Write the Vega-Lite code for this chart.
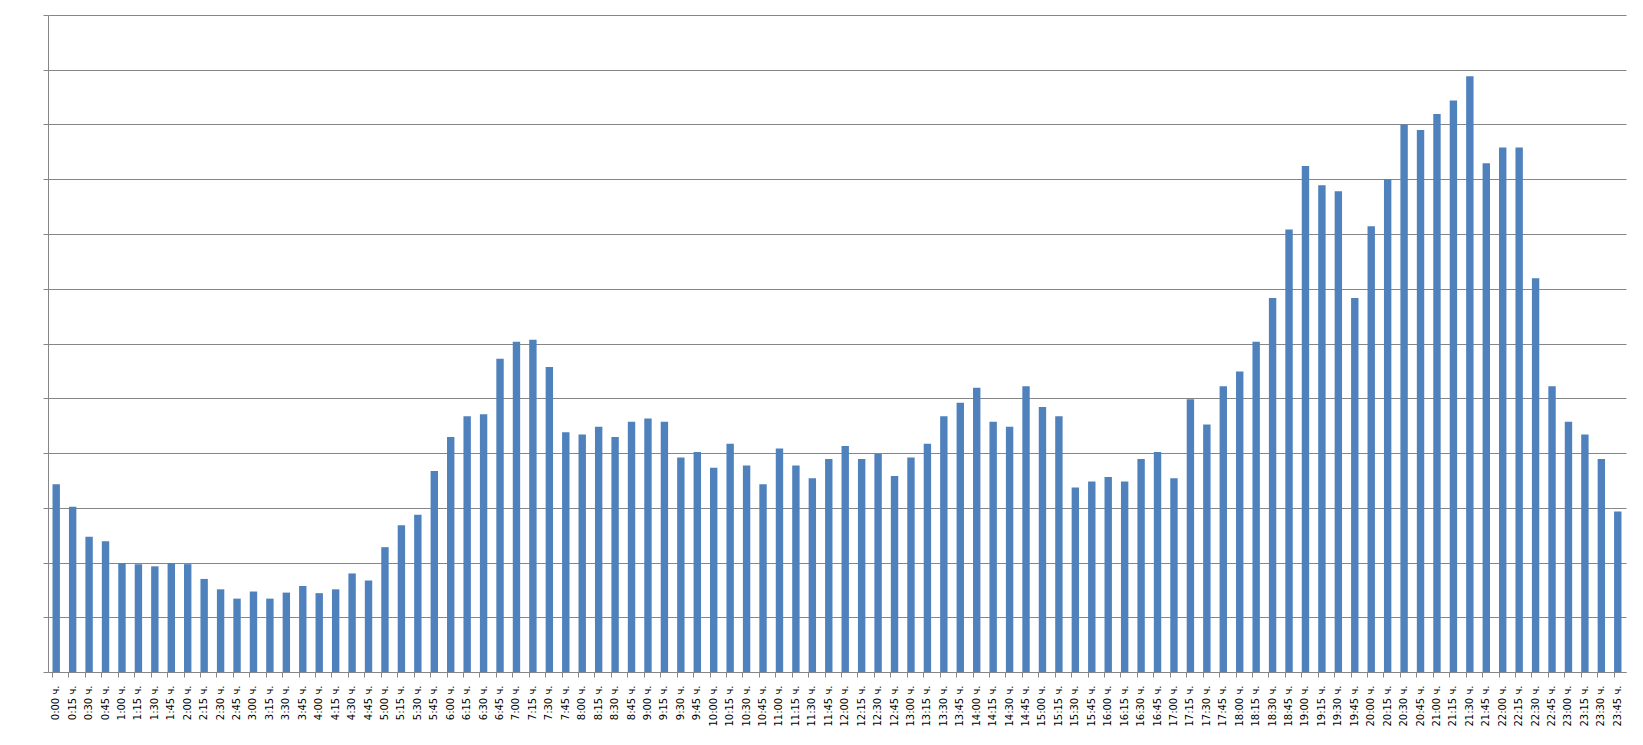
{
  "$schema": "https://vega.github.io/schema/vega-lite/v6.json",
  "autosize": "none",
  "width": 1578,
  "height": 657,
  "padding": {"left": 48, "top": 15, "right": 17, "bottom": 73},
  "background": "white",
  "config": {
    "view": {"stroke": null},
    "font": "DejaVu Sans"
  },
  "data": {"values": [
    {"time": "0:00 ч.", "value": 3.43},
    {"time": "0:15 ч.", "value": 3.02},
    {"time": "0:30 ч.", "value": 2.47},
    {"time": "0:45 ч.", "value": 2.39},
    {"time": "1:00 ч.", "value": 1.99},
    {"time": "1:15 ч.", "value": 1.97},
    {"time": "1:30 ч.", "value": 1.93},
    {"time": "1:45 ч.", "value": 1.99},
    {"time": "2:00 ч.", "value": 1.97},
    {"time": "2:15 ч.", "value": 1.70},
    {"time": "2:30 ч.", "value": 1.51},
    {"time": "2:45 ч.", "value": 1.34},
    {"time": "3:00 ч.", "value": 1.47},
    {"time": "3:15 ч.", "value": 1.34},
    {"time": "3:30 ч.", "value": 1.45},
    {"time": "3:45 ч.", "value": 1.57},
    {"time": "4:00 ч.", "value": 1.44},
    {"time": "4:15 ч.", "value": 1.51},
    {"time": "4:30 ч.", "value": 1.80},
    {"time": "4:45 ч.", "value": 1.67},
    {"time": "5:00 ч.", "value": 2.28},
    {"time": "5:15 ч.", "value": 2.68},
    {"time": "5:30 ч.", "value": 2.87},
    {"time": "5:45 ч.", "value": 3.67},
    {"time": "6:00 ч.", "value": 4.29},
    {"time": "6:15 ч.", "value": 4.67},
    {"time": "6:30 ч.", "value": 4.71},
    {"time": "6:45 ч.", "value": 5.72},
    {"time": "7:00 ч.", "value": 6.03},
    {"time": "7:15 ч.", "value": 6.07},
    {"time": "7:30 ч.", "value": 5.57},
    {"time": "7:45 ч.", "value": 4.38},
    {"time": "8:00 ч.", "value": 4.34},
    {"time": "8:15 ч.", "value": 4.48},
    {"time": "8:30 ч.", "value": 4.29},
    {"time": "8:45 ч.", "value": 4.57},
    {"time": "9:00 ч.", "value": 4.63},
    {"time": "9:15 ч.", "value": 4.57},
    {"time": "9:30 ч.", "value": 3.92},
    {"time": "9:45 ч.", "value": 4.02},
    {"time": "10:00 ч.", "value": 3.73},
    {"time": "10:15 ч.", "value": 4.17},
    {"time": "10:30 ч.", "value": 3.77},
    {"time": "10:45 ч.", "value": 3.43},
    {"time": "11:00 ч.", "value": 4.08},
    {"time": "11:15 ч.", "value": 3.77},
    {"time": "11:30 ч.", "value": 3.54},
    {"time": "11:45 ч.", "value": 3.89},
    {"time": "12:00 ч.", "value": 4.13},
    {"time": "12:15 ч.", "value": 3.89},
    {"time": "12:30 ч.", "value": 3.98},
    {"time": "12:45 ч.", "value": 3.58},
    {"time": "13:00 ч.", "value": 3.92},
    {"time": "13:15 ч.", "value": 4.17},
    {"time": "13:30 ч.", "value": 4.67},
    {"time": "13:45 ч.", "value": 4.92},
    {"time": "14:00 ч.", "value": 5.19},
    {"time": "14:15 ч.", "value": 4.57},
    {"time": "14:30 ч.", "value": 4.48},
    {"time": "14:45 ч.", "value": 5.22},
    {"time": "15:00 ч.", "value": 4.84},
    {"time": "15:15 ч.", "value": 4.67},
    {"time": "15:30 ч.", "value": 3.37},
    {"time": "15:45 ч.", "value": 3.48},
    {"time": "16:00 ч.", "value": 3.56},
    {"time": "16:15 ч.", "value": 3.48},
    {"time": "16:30 ч.", "value": 3.89},
    {"time": "16:45 ч.", "value": 4.02},
    {"time": "17:00 ч.", "value": 3.54},
    {"time": "17:15 ч.", "value": 4.98},
    {"time": "17:30 ч.", "value": 4.52},
    {"time": "17:45 ч.", "value": 5.22},
    {"time": "18:00 ч.", "value": 5.49},
    {"time": "18:15 ч.", "value": 6.03},
    {"time": "18:30 ч.", "value": 6.83},
    {"time": "18:45 ч.", "value": 8.08},
    {"time": "19:00 ч.", "value": 9.24},
    {"time": "19:15 ч.", "value": 8.89},
    {"time": "19:30 ч.", "value": 8.78},
    {"time": "19:45 ч.", "value": 6.83},
    {"time": "20:00 ч.", "value": 8.14},
    {"time": "20:15 ч.", "value": 9.0},
    {"time": "20:30 ч.", "value": 10.0},
    {"time": "20:45 ч.", "value": 9.9},
    {"time": "21:00 ч.", "value": 10.19},
    {"time": "21:15 ч.", "value": 10.44},
    {"time": "21:30 ч.", "value": 10.88},
    {"time": "21:45 ч.", "value": 9.29},
    {"time": "22:00 ч.", "value": 9.58},
    {"time": "22:15 ч.", "value": 9.58},
    {"time": "22:30 ч.", "value": 7.19},
    {"time": "22:45 ч.", "value": 5.22},
    {"time": "23:00 ч.", "value": 4.57},
    {"time": "23:15 ч.", "value": 4.34},
    {"time": "23:30 ч.", "value": 3.89},
    {"time": "23:45 ч.", "value": 2.93}
  ]},
  "mark": {"type": "bar", "color": "#4F81BD"},
  "encoding": {
    "x": {
      "field": "time",
      "type": "nominal",
      "sort": null,
      "title": null,
      "scale": {"paddingInner": 0.55, "paddingOuter": 0.275},
      "axis": {
        "labelAngle": 270,
        "labelAlign": "right",
        "labelBaseline": "middle",
        "labelFontSize": 10,
        "labelColor": "#000000",
        "labelPadding": 8,
        "labelOverlap": false,
        "bandPosition": 0,
        "domainColor": "#868686",
        "tickColor": "#868686",
        "tickSize": 5,
        "grid": false
      }
    },
    "y": {
      "field": "value",
      "type": "quantitative",
      "title": null,
      "scale": {"domain": [0, 12], "nice": false},
      "axis": {
        "values": [0, 1, 2, 3, 4, 5, 6, 7, 8, 9, 10, 11, 12],
        "labels": false,
        "grid": true,
        "gridColor": "#868686",
        "gridOpacity": 1,
        "domainColor": "#868686",
        "tickColor": "#868686",
        "tickSize": 5
      }
    }
  }
}
